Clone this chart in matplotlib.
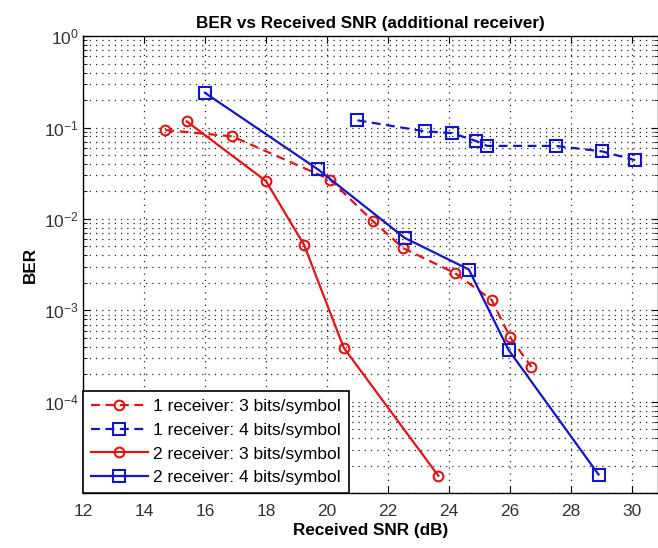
import matplotlib.pyplot as plt
from matplotlib.ticker import LogLocator, NullFormatter, FixedLocator

plt.rcParams['font.family'] = ['Liberation Sans', 'DejaVu Sans']
plt.rcParams['mathtext.fontset'] = 'custom'
plt.rcParams['mathtext.rm'] = 'Liberation Sans'
plt.rcParams['mathtext.it'] = 'Liberation Sans:italic'
plt.rcParams['mathtext.bf'] = 'Liberation Sans:bold'

# 1 receiver, 3 bits/symbol
snr_1r_3b = [14.7, 16.9, 20.1, 21.5, 22.5, 24.2, 25.4, 26.0, 26.7]
ber_1r_3b = [0.094, 0.080, 0.027, 0.0095, 0.0048, 0.00255, 0.0013, 0.00051, 0.00024]

# 1 receiver, 4 bits/symbol
snr_1r_4b = [21.0, 23.2, 24.1, 24.9, 25.25, 27.5, 29.0, 30.1]
ber_1r_4b = [0.12, 0.091, 0.087, 0.071, 0.063, 0.063, 0.055, 0.044]

# 2 receiver, 3 bits/symbol
snr_2r_3b = [15.4, 18.0, 19.25, 20.55, 23.65]
ber_2r_3b = [0.117, 0.026, 0.0052, 0.00039, 1.55e-5]

# 2 receiver, 4 bits/symbol
snr_2r_4b = [16.0, 19.7, 22.55, 24.65, 25.95, 28.9]
ber_2r_4b = [0.24, 0.035, 0.0062, 0.0028, 0.00037, 1.6e-5]

labels = ["1 receiver: 3 bits/symbol", "1 receiver: 4 bits/symbol",
          "2 receiver: 3 bits/symbol", "2 receiver: 4 bits/symbol"]

red = "#e01414"
blue = "#1414c8"

fig = plt.figure(figsize=(6.58, 5.48), dpi=100)
ax = fig.add_axes([0.126, 0.100, 0.874, 0.834])

dash = (4, 2.5)
ax.semilogy(snr_1r_3b, ber_1r_3b, color=red, ls="--", dashes=dash, lw=1.6,
            marker="o", ms=7, mfc="none", mew=1.5, label=labels[0])
ax.semilogy(snr_1r_4b, ber_1r_4b, color=blue, ls="--", dashes=dash, lw=1.6,
            marker="s", ms=8, mfc="none", mew=1.5, label=labels[1])
ax.semilogy(snr_2r_3b, ber_2r_3b, color=red, lw=1.6,
            marker="o", ms=7, mfc="none", mew=1.5, label=labels[2])
ax.semilogy(snr_2r_4b, ber_2r_4b, color=blue, lw=1.6,
            marker="s", ms=8, mfc="none", mew=1.5, label=labels[3])

ax.set_xlim(12, 30.85)
ax.set_ylim(1e-5, 1)
ax.set_xticks(range(12, 31, 2))
ax.yaxis.set_minor_locator(LogLocator(base=10, subs=range(2, 10), numticks=10))
ax.yaxis.set_minor_formatter(NullFormatter())
# no label at the bottom decade
ax.yaxis.set_major_locator(FixedLocator([1e-5, 1e-4, 1e-3, 1e-2, 1e-1, 1]))
ax.set_yticklabels(["", r"$\mathregular{10^{-4}}$", r"$\mathregular{10^{-3}}$",
                    r"$\mathregular{10^{-2}}$", r"$\mathregular{10^{-1}}$",
                    r"$\mathregular{10^{0}}$"])

dots = (0, (1, 4))
ax.grid(True, which="major", ls=dots, color="#222222", lw=0.9)
ax.grid(True, which="minor", axis="y", ls=dots, color="#222222", lw=0.9)
ax.tick_params(which="both", direction="in", top=True, right=True, labelsize=12.5,
               labelcolor="#333333")
ax.tick_params(axis="x", which="major", length=5, pad=8)
ax.tick_params(axis="y", which="major", length=5, pad=3)
ax.tick_params(which="minor", length=3)
for s in ax.spines.values():
    s.set_linewidth(1.0)

ax.set_title("BER vs Received SNR (additional receiver)", fontsize=12.3, fontweight="bold")
ax.set_xlabel("Received SNR (dB)", fontsize=12.3, fontweight="bold", labelpad=3)
ax.set_ylabel("BER", fontsize=12.3, fontweight="bold", labelpad=4)

leg = ax.legend(loc="lower left", fontsize=12.5, handlelength=3.3, borderaxespad=0,
                fancybox=False, framealpha=1, edgecolor="black",
                labelspacing=0.5, borderpad=0.45, handletextpad=0.3)
leg.get_frame().set_linewidth(1.2)

fig.savefig("out.png", dpi=100)
